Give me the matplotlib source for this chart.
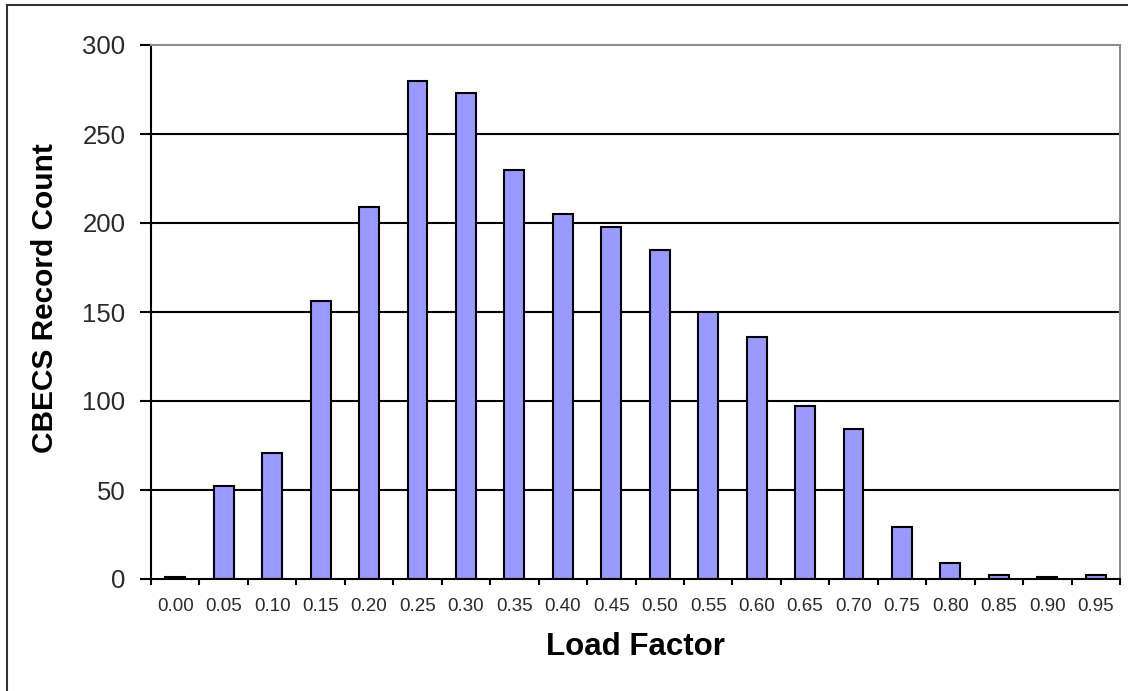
import matplotlib
matplotlib.use("Agg")
import matplotlib.pyplot as plt
from matplotlib.lines import Line2D

# data
load_factor = ["0.00", "0.05", "0.10", "0.15", "0.20", "0.25", "0.30", "0.35", "0.40", "0.45",
               "0.50", "0.55", "0.60", "0.65", "0.70", "0.75", "0.80", "0.85", "0.90", "0.95"]
record_count = [1, 52, 71, 156, 209, 280, 273, 230, 205, 198,
                185, 150, 136, 97, 84, 29, 9, 2, 1, 2]
y_ticks = [0, 50, 100, 150, 200, 250, 300]

plt.rcParams['font.family'] = ['Liberation Sans', 'DejaVu Sans']

fig = plt.figure(figsize=(11.28, 6.91), dpi=100)
ax = fig.add_axes([151/1128, 1-579/691, (1120-151)/1128, (579-45)/691])

x = list(range(len(load_factor)))
ax.bar(x, record_count, width=0.41, color="#9999FF", edgecolor="black", linewidth=1.5, zorder=3)

ax.set_xlim(-0.5, len(load_factor) - 0.5)
ax.set_ylim(0, 300)
ax.set_yticks(y_ticks)
ax.set_yticklabels([str(v) for v in y_ticks], fontsize=18.5, color="#2a2a2a")
ax.set_xticks(x)
ax.set_xticklabels(load_factor, fontsize=13.5, color="#2a2a2a")
ax.set_xticks([i + 0.5 for i in range(-1, len(load_factor))], minor=True)

ax.tick_params(axis="y", direction="out", length=8, width=1.5, pad=10.5, color="black")
ax.tick_params(axis="x", which="major", length=0, pad=14)
ax.tick_params(axis="x", which="minor", direction="out", length=4, width=1.5, color="black")

# gridlines
for v in y_ticks[1:-1]:
    ax.axhline(v, color="black", linewidth=1.5, zorder=1)

ax.spines["left"].set_color("black")
ax.spines["left"].set_linewidth(1.5)
ax.spines["bottom"].set_color("black")
ax.spines["bottom"].set_linewidth(1.5)
ax.spines["bottom"].set_zorder(4)
ax.spines["top"].set_color("#8c8c8c")
ax.spines["top"].set_linewidth(1.5)
ax.spines["right"].set_color("#8c8c8c")
ax.spines["right"].set_linewidth(1.5)

fig.text(635/1128, 1-647/691, "Load Factor", fontsize=22.5, fontweight="bold",
         ha="center", va="center")
fig.text(45.5/1128, 1-298/691, "CBECS Record Count", fontsize=21.5, fontweight="bold",
         ha="center", va="center", rotation=90)

# outer frame (left and top only are visible in the reference)
fig.add_artist(Line2D([7/1128, 7/1128], [0, 1-5/691], color="#333333", linewidth=1.5,
                      transform=fig.transFigure))
fig.add_artist(Line2D([7/1128, 1], [1-5/691, 1-5/691], color="#333333", linewidth=1.5,
                      transform=fig.transFigure))

fig.savefig("out.png", dpi=100)
